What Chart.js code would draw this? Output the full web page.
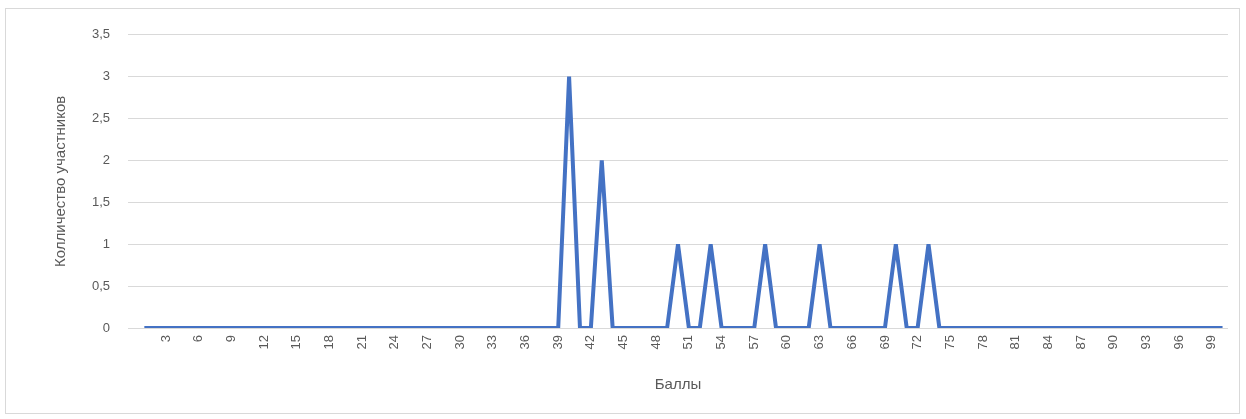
<!DOCTYPE html>
<html>
<head>
<meta charset="utf-8">
<script src="https://cdn.jsdelivr.net/npm/chart.js@4/dist/chart.umd.min.js"></script>
<style>
    html, body { margin: 0; padding: 0; background: #ffffff; }
    #frame {
        position: absolute;
        left: 5px;
        top: 8px;
        width: 1233px;
        height: 404px;
        border: 1px solid #d9d9d9;
        background: #ffffff;
    }
    #frame canvas { display: block; }
</style>
</head>
<body>
<div id="frame"><canvas id="chart" width="1233" height="404"></canvas></div>
<script>
// Scores (categories) 0..100
const scoreLabels = [
    0, 1, 2, 3, 4, 5, 6, 7, 8, 9,
    10, 11, 12, 13, 14, 15, 16, 17, 18, 19,
    20, 21, 22, 23, 24, 25, 26, 27, 28, 29,
    30, 31, 32, 33, 34, 35, 36, 37, 38, 39,
    40, 41, 42, 43, 44, 45, 46, 47, 48, 49,
    50, 51, 52, 53, 54, 55, 56, 57, 58, 59,
    60, 61, 62, 63, 64, 65, 66, 67, 68, 69,
    70, 71, 72, 73, 74, 75, 76, 77, 78, 79,
    80, 81, 82, 83, 84, 85, 86, 87, 88, 89,
    90, 91, 92, 93, 94, 95, 96, 97, 98, 99,
    100
];

// Number of participants per score
const participantCounts = [
    null, 0, 0, 0, 0, 0, 0, 0, 0, 0,
    0, 0, 0, 0, 0, 0, 0, 0, 0, 0,
    0, 0, 0, 0, 0, 0, 0, 0, 0, 0,
    0, 0, 0, 0, 0, 0, 0, 0, 0, 0,
    3, 0, 0, 2, 0, 0, 0, 0, 0, 0,
    1, 0, 0, 1, 0, 0, 0, 0, 1, 0,
    0, 0, 0, 1, 0, 0, 0, 0, 0, 0,
    1, 0, 0, 1, 0, 0, 0, 0, 0, 0,
    0, 0, 0, 0, 0, 0, 0, 0, 0, 0,
    0, 0, 0, 0, 0, 0, 0, 0, 0, 0,
    0
];

// Y axis ticks
const yTicks = [0, 0.5, 1, 1.5, 2, 2.5, 3, 3.5];

const LINE_BLUE = '#4472c4';
const TEXT_GRAY = '#595959';
const GRID_GRAY = '#d9d9d9';
const FONT = "'Liberation Sans', 'Open Sans', sans-serif";

new Chart(document.getElementById('chart'), {
    type: 'line',
    data: {
        labels: scoreLabels,
        datasets: [{
            data: participantCounts,
            borderColor: LINE_BLUE,
            borderWidth: 4,
            borderJoinStyle: 'bevel',
            pointRadius: 0,
            tension: 0,
            spanGaps: false
        }]
    },
    options: {
        responsive: false,
        animation: false,
        layout: { padding: { left: 0, right: 0, top: 24, bottom: 17 } },
        plugins: {
            legend: { display: false },
            tooltip: { enabled: false }
        },
        scales: {
            x: {
                offset: true,
                grid: { display: false, drawTicks: false },
                border: { display: false },
                ticks: {
                    autoSkip: false,
                    minRotation: 90,
                    maxRotation: 90,
                    padding: 7,
                    color: TEXT_GRAY,
                    font: { family: FONT, size: 13 },
                    callback: function(value) {
                        const label = scoreLabels[value];
                        return (label > 0 && label % 3 === 0) ? String(label) : '';
                    }
                },
                title: {
                    display: true,
                    text: 'Баллы',
                    color: TEXT_GRAY,
                    font: { family: FONT, size: 15 },
                    padding: { top: 4, bottom: 2 }
                },
                afterFit: function(scale) {
                    scale.height = 68;
                    scale.paddingRight = 11;
                }
            },
            y: {
                min: yTicks[0],
                max: yTicks[yTicks.length - 1],
                afterBuildTicks: function(scale) {
                    scale.ticks = yTicks.map(v => ({ value: v }));
                },
                grid: { color: GRID_GRAY, lineWidth: 1, drawTicks: false },
                border: { display: false },
                ticks: {
                    padding: 18,
                    color: TEXT_GRAY,
                    font: { family: FONT, size: 13 },
                    callback: function(value) {
                        return String(value).replace('.', ',');
                    }
                },
                title: {
                    display: true,
                    text: 'Колличество участников',
                    color: TEXT_GRAY,
                    font: { family: FONT, size: 15 },
                    padding: { top: 46, bottom: 0 }
                },
                afterFit: function(scale) { scale.width = 122; }
            }
        }
    }
});
</script>
</body>
</html>
